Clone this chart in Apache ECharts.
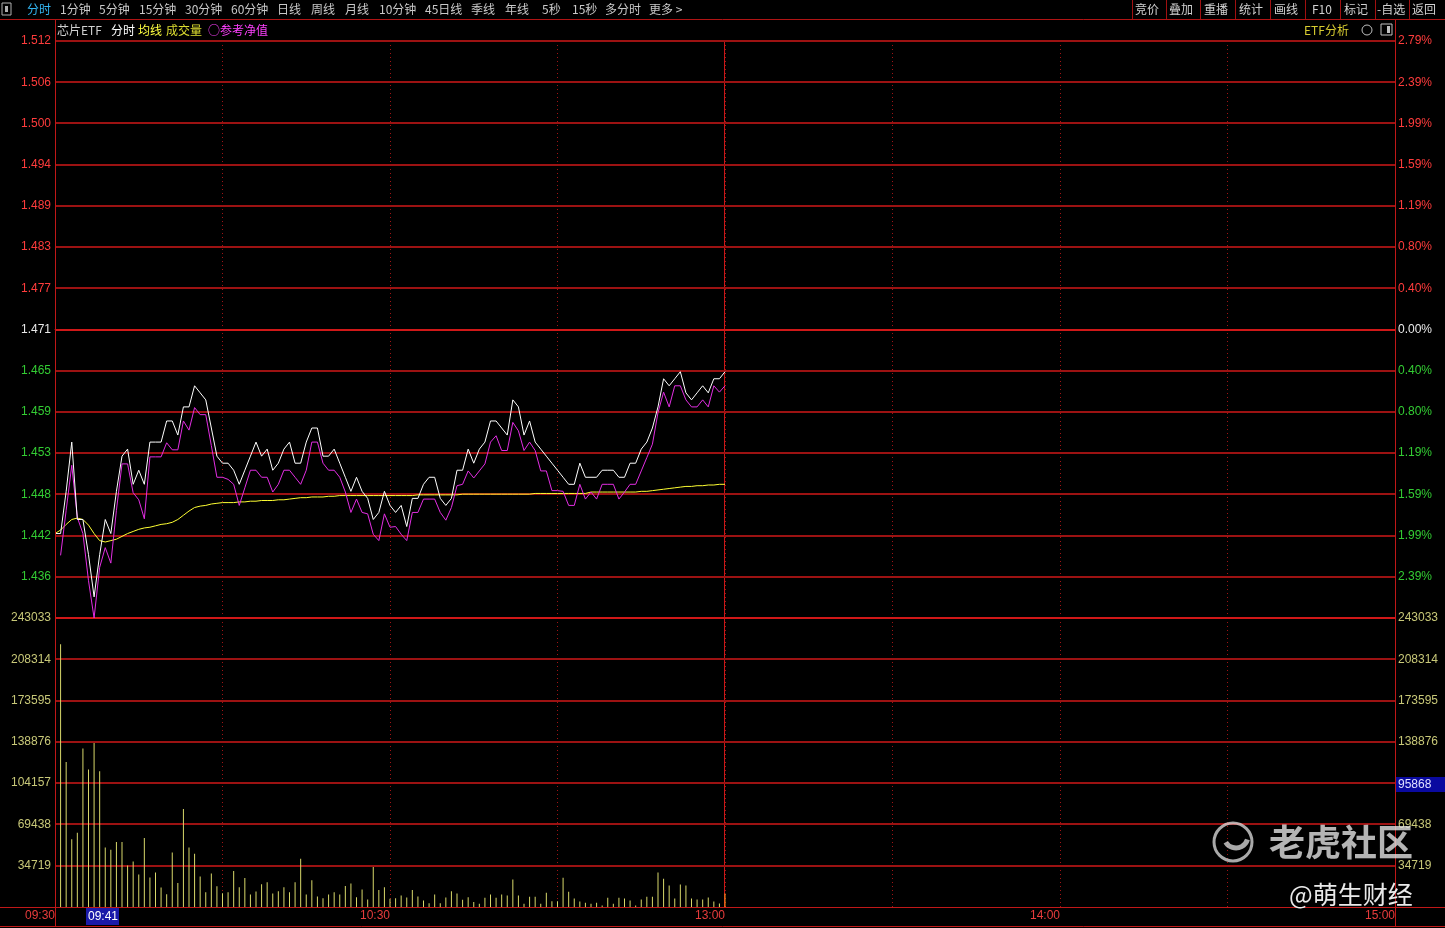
<!DOCTYPE html>
<html><head><meta charset="utf-8">
<script src="https://cdn.jsdelivr.net/npm/echarts@6/dist/echarts.min.js"></script>
<style>html,body{margin:0;padding:0;background:#000;overflow:hidden}#c{width:1445px;height:928px;}</style>
</head><body><div id="c"></div>
<script>
// ---------------- data ----------------
const PREV_CLOSE = 1.471;
const PRICE_SPAN = 0.041;           // +/- 2.79%
const VOL_MAX = 243033;
const VOL_INTERVAL = 34719;
const TIME_LABELS = {0:'09:30', 60:'10:30', 120:'13:00', 180:'14:00', 240:'15:00'};
const TOOLBAR_LEFT = ['分时','1分钟','5分钟','15分钟','30分钟','60分钟','日线','周线','月线','10分钟','45日线','季线','年线','5秒','15秒','多分时','更多 >'];
const TOOLBAR_RIGHT = ['竞价','叠加','重播','统计','画线','F10','标记','-自选','返回'];
const LEGEND = ['芯片ETF','分时','均线','成交量','○参考净值'];
const CURSOR_TIME = '09:41';
const CURSOR_VOL = '95868';

// minute 0 = 09:30 ... minute 120 = 11:30/13:00
const price = [
1.442,1.442,1.448,1.455,1.444,1.444,1.439,1.433,1.439,1.444,
1.442,1.448,1.453,1.454,1.449,1.451,1.449,1.455,1.455,1.455,
1.458,1.458,1.456,1.460,1.460,1.463,1.462,1.461,1.457,1.453,
1.452,1.452,1.451,1.449,1.451,1.453,1.455,1.453,1.454,1.451,
1.452,1.454,1.455,1.452,1.452,1.455,1.457,1.457,1.453,1.453,
1.454,1.452,1.450,1.448,1.450,1.448,1.447,1.444,1.445,1.448,
1.446,1.445,1.446,1.443,1.447,1.447,1.449,1.450,1.450,1.447,
1.446,1.447,1.451,1.451,1.454,1.452,1.454,1.455,1.458,1.458,
1.457,1.456,1.461,1.460,1.456,1.458,1.455,1.454,1.453,1.452,
1.451,1.450,1.449,1.449,1.452,1.450,1.450,1.450,1.451,1.451,
1.451,1.450,1.450,1.452,1.452,1.454,1.455,1.457,1.460,1.464,
1.463,1.464,1.465,1.462,1.461,1.462,1.463,1.462,1.464,1.464,
1.465];

const refNav = [
null,1.4389,1.4453,1.4517,1.4443,1.4420,1.4353,1.4300,1.4372,1.4400,
1.4378,1.4453,1.4519,1.4519,1.4478,1.4468,1.4441,1.4529,1.4529,1.4529,
1.4549,1.4539,1.4539,1.4580,1.4567,1.4599,1.4589,1.4589,1.4545,1.4500,
1.4500,1.4497,1.4490,1.4460,1.4485,1.4510,1.4510,1.4500,1.4500,1.4479,
1.4490,1.4510,1.4510,1.4500,1.4490,1.4510,1.4550,1.4550,1.4520,1.4510,
1.4510,1.4500,1.4479,1.4450,1.4469,1.4450,1.4448,1.4419,1.4410,1.4448,
1.4429,1.4430,1.4419,1.4410,1.4450,1.4450,1.4469,1.4469,1.4469,1.4450,
1.4439,1.4457,1.4488,1.4490,1.4509,1.4499,1.4509,1.4519,1.4550,1.4559,
1.4538,1.4538,1.4578,1.4566,1.4538,1.4550,1.4538,1.4509,1.4509,1.4481,
1.4481,1.4480,1.4460,1.4460,1.4490,1.4469,1.4479,1.4469,1.4490,1.4490,
1.4490,1.4469,1.4479,1.4490,1.4490,1.4509,1.4528,1.4547,1.4592,1.4621,
1.4600,1.4630,1.4630,1.4610,1.4600,1.4600,1.4610,1.4600,1.4630,1.4621,
1.4630];

const avgPrice = [
1.4420,1.4425,1.4433,1.4440,1.4442,1.4440,1.4432,1.4420,1.4410,1.4408,
1.4410,1.4412,1.4416,1.4420,1.4423,1.4426,1.4428,1.4429,1.4431,1.4433,
1.4434,1.4436,1.4440,1.4446,1.4452,1.4457,1.4459,1.4460,1.4462,1.4463,
1.4464,1.4464,1.4464,1.4465,1.4465,1.4466,1.4466,1.4467,1.4467,1.4467,
1.4468,1.4468,1.4469,1.4470,1.4471,1.4471,1.4472,1.4472,1.4472,1.4473,
1.4473,1.4474,1.4474,1.4474,1.4474,1.4474,1.4474,1.4474,1.4474,1.4474,
1.4474,1.4474,1.4474,1.4474,1.4474,1.4475,1.4475,1.4475,1.4475,1.4475,
1.4475,1.4475,1.4475,1.4476,1.4476,1.4476,1.4476,1.4476,1.4476,1.4476,
1.4476,1.4476,1.4476,1.4476,1.4476,1.4476,1.4477,1.4477,1.4477,1.4477,
1.4477,1.4477,1.4477,1.4477,1.4477,1.4477,1.4479,1.4479,1.4479,1.4479,
1.4479,1.4479,1.4479,1.4479,1.4479,1.4480,1.4480,1.4481,1.4482,1.4483,
1.4484,1.4485,1.4486,1.4487,1.4487,1.4488,1.4488,1.4489,1.4489,1.4490,
1.4490];

const volume = [
null,221000,122000,56900,62500,133300,115600,138000,114200,50100,
48200,54600,54600,35000,38300,27400,58000,24900,29100,16400,
10800,45900,20100,82400,50100,44800,25700,12500,28200,17500,
11600,12500,30200,16700,24300,10500,13100,19200,20900,11400,
13300,16700,12500,20900,40600,10500,22600,8800,7400,10500,
12500,10500,17600,19800,8300,14700,6300,33600,14200,16700,
6900,7400,9700,8000,14200,8800,5500,3200,10500,3200,
8000,13300,11400,6000,8300,4100,2700,7700,10500,7700,
10500,9700,23200,9700,2700,8600,8600,2700,11900,4900,
4900,24600,12800,7200,4600,3500,2700,3500,1300,7700,
2700,7700,7200,5500,1300,6300,8600,8600,29100,23700,
18100,7200,19000,18100,7200,6300,6300,8000,4600,3000,
11400];

// ---------------- chart ----------------
const STEP = PRICE_SPAN / 7;
const toStep = p => (p == null ? null : (p - PREV_CLOSE) / STEP);
const RED = '#ff3c3c', GREEN = '#33cc33', WHITE = '#e8e8e8', VOLC = '#c8c878';
const GRID_RED = '#9c1212';
const NUM_FONT = 'Arial, "Liberation Sans", sans-serif';
const CJK = '"Noto Sans CJK SC", sans-serif';
const L = 55, R = 1395, PT = 41, PB = 618, VB = 907;

const chart = echarts.init(document.getElementById('c'), null, {renderer: 'canvas'});

const priceColor = v => v > 0.001 ? RED : (v < -0.001 ? GREEN : WHITE);

const xBase = (gi, showLabel) => ({
  type: 'value', gridIndex: gi, min: 0, max: 240, interval: 30,
  axisLine: {show: true, lineStyle: {color: '#c01818', width: 1}},
  axisTick: {show: false},
  splitLine: {show: true, lineStyle: {color: '#a01414', type: [1, 3], width: 1}},
  axisLabel: showLabel ? {
    show: true, color: '#e83c3c', fontSize: 12, fontFamily: NUM_FONT, margin: 3,
    align: 'right', showMinLabel: true, showMaxLabel: true,
    formatter: v => TIME_LABELS[v] || ''
  } : {show: false}
});

const option = {
  backgroundColor: '#000',
  animation: false,
  grid: [
    {left: L, top: PT, width: R - L, height: PB - PT},
    {left: L, top: PB, width: R - L, height: VB - PB}
  ],
  xAxis: [xBase(0, false), xBase(1, true)],
  yAxis: [
    {type: 'value', gridIndex: 0, min: -7, max: 7, interval: 1, position: 'left',
     axisLine: {show: false}, axisTick: {show: false}, splitLine: {show: false},
     axisLabel: {margin: 4, fontSize: 12, fontFamily: NUM_FONT,
       color: v => priceColor(v),
       formatter: v => v <= -6.999 ? '' : (PREV_CLOSE + v * STEP).toFixed(3)}},
    {type: 'value', gridIndex: 0, min: -7, max: 7, interval: 1, position: 'right',
     axisLine: {show: false}, axisTick: {show: false}, splitLine: {show: false},
     axisLabel: {margin: 3, fontSize: 12, fontFamily: NUM_FONT,
       color: v => priceColor(v),
       formatter: v => v <= -6.999 ? '' : Math.abs(v * STEP / PREV_CLOSE * 100).toFixed(2) + '%'}},
    {type: 'value', gridIndex: 1, min: 0, max: VOL_MAX, interval: VOL_INTERVAL, position: 'left',
     axisLine: {show: false}, axisTick: {show: false}, splitLine: {show: false},
     axisLabel: {margin: 4, fontSize: 12, fontFamily: NUM_FONT, color: VOLC,
       formatter: v => v === 0 ? '' : String(v)}},
    {type: 'value', gridIndex: 1, min: 0, max: VOL_MAX, interval: VOL_INTERVAL, position: 'right',
     axisLine: {show: false}, axisTick: {show: false}, splitLine: {show: false},
     axisLabel: {margin: 3, fontSize: 12, fontFamily: NUM_FONT, color: VOLC,
       formatter: v => v === 0 ? '' : String(v)}}
  ],
  series: [
    {type: 'line', name: '均线', xAxisIndex: 0, yAxisIndex: 0, symbol: 'none', z: 3,
     lineStyle: {color: '#ffff33', width: 1},
     data: avgPrice.map((p, i) => [i, toStep(p)])},
    {type: 'line', name: '参考净值', xAxisIndex: 0, yAxisIndex: 0, symbol: 'none', z: 4,
     connectNulls: false, lineStyle: {color: '#e22ee2', width: 1},
     data: refNav.map((p, i) => [i, toStep(p)])},
    {type: 'line', name: '分时', xAxisIndex: 0, yAxisIndex: 0, symbol: 'none', z: 5,
     lineStyle: {color: '#ffffff', width: 1},
     data: price.map((p, i) => [i, toStep(p)])},
    {type: 'bar', name: '成交量', xAxisIndex: 1, yAxisIndex: 2, barWidth: 1, z: 3,
     itemStyle: {color: p => (p.dataIndex === volume.length - 1 ? '#ff9a1a' : '#d8d86a')},
     data: volume.map((v, i) => [i, v])}
  ],
  graphic: []
};

// ---------- decorations (toolbar, legend, frame, watermark) ----------
const G = option.graphic;
const txt = (x, y, text, fill, font, z) => G.push({
  type: 'text', silent: true, z: z || 20,
  style: {x, y, text, fill, font: font || `12px ${CJK}`, verticalAlign: 'middle', align: 'left'}
});
const line = (x1, y1, x2, y2, stroke, w, z) => G.push({type: 'line', silent: true, z: z || 10,
  shape: {x1, y1, x2, y2}, style: {stroke, lineWidth: w || 1}});

// toolbar
const tlx = [27, 60, 99, 139, 185, 231, 277, 311, 345, 379, 425, 471, 505, 542, 572, 605, 649];
G.push({type: 'rect', silent: true, z: 19, shape: {x: 2, y: 3, width: 9, height: 12},
  style: {fill: 'none', stroke: '#b0b0b0', lineWidth: 1}});
G.push({type: 'rect', silent: true, z: 19, shape: {x: 5, y: 6, width: 3, height: 6},
  style: {fill: '#b0b0b0'}});
TOOLBAR_LEFT.forEach((t, i) => txt(tlx[i], 9, t, i === 0 ? '#33b5f0' : '#c8c8c8'));
const trx = [1135, 1169, 1204, 1239, 1274, 1312, 1344, 1377, 1412];
const sepx = [1132, 1166, 1200, 1235, 1270, 1305, 1340, 1375, 1409];
TOOLBAR_RIGHT.forEach((t, i) => txt(trx[i], 9, t, '#d0d0d0'));
sepx.forEach(x => line(x + 0.5, 0, x + 0.5, 19, '#a01010', 1));
line(0, 19.5, 1445, 19.5, '#b01414', 1);

// legend row
const lgx = [57, 111, 138, 166, 208];
const lgc = ['#d0d0d0', '#ffffff', '#ffff40', '#dede30', '#ff40ff'];
LEGEND.forEach((t, i) => txt(lgx[i], 30, t, lgc[i]));
txt(1304, 30, 'ETF分析', '#d8cc30');
G.push({type: 'circle', silent: true, z: 20, shape: {cx: 1367, cy: 30, r: 5},
  style: {fill: 'none', stroke: '#c0c0c0', lineWidth: 1}});
G.push({type: 'rect', silent: true, z: 20, shape: {x: 1381, y: 24, width: 11, height: 11},
  style: {fill: 'none', stroke: '#c0c0c0', lineWidth: 1}});
G.push({type: 'rect', silent: true, z: 20, shape: {x: 1387, y: 26, width: 3, height: 7},
  style: {fill: '#c0c0c0'}});

// frame
line(L + 0.5, 20, L + 0.5, 926, '#c01818', 1);
line(R + 0.5, 20, R + 0.5, 926, '#c01818', 1);
line(724.5, PT, 724.5, VB, '#c81818', 1, 2);   // midday (11:30/13:00) divider
line(0, VB + 0.5, 1445, VB + 0.5, '#c01818', 1);
line(0, 926.5, 1445, 926.5, '#c01818', 1);

// crosshair boxes
G.push({type: 'rect', silent: true, z: 21, shape: {x: 86, y: 908, width: 33, height: 17}, style: {fill: '#1a1aa8'}});
txt(88, 916.5, CURSOR_TIME, '#ffffff', `12px ${NUM_FONT}`, 23);
G.push({type: 'rect', silent: true, z: 21, shape: {x: 1396, y: 777, width: 49, height: 15}, style: {fill: '#0a0aa0'}});
txt(1398, 784.5, CURSOR_VOL, '#e0e0ff', `12px ${NUM_FONT}`, 23);

// watermark
G.push({type: 'circle', silent: true, z: 30, shape: {cx: 1233, cy: 842, r: 19},
  style: {fill: 'none', stroke: 'rgba(225,225,225,0.75)', lineWidth: 3}});
G.push({type: 'arc', silent: true, z: 30, shape: {cx: 1236, cy: 836, r: 12, startAngle: 0.3, endAngle: 2.6},
  style: {fill: 'none', stroke: 'rgba(225,225,225,0.75)', lineWidth: 5}});
txt(1269, 842, '老虎社区', 'rgba(225,225,225,0.8)', `bold 36px ${CJK}`, 30);
txt(1289, 894, '@萌生财经', 'rgba(245,245,245,0.95)', `25px ${CJK}`, 30);

chart.setOption(option);

// horizontal grid lines at the axes' own tick positions (2px, pixel-aligned)
for (let k = -7; k <= 7; k++) {
  const y = Math.round(chart.convertToPixel({yAxisIndex: 0}, k));
  const strong = k === 0 || k === -7;
  line(L, y, R, y, strong ? '#d01818' : GRID_RED, 2, 2);
}
for (let v = VOL_INTERVAL; v < VOL_MAX; v += VOL_INTERVAL) {
  const y = Math.round(chart.convertToPixel({yAxisIndex: 2}, v));
  line(L, y, R, y, GRID_RED, 2, 2);
}
chart.setOption({graphic: G});
</script>
</body></html>
